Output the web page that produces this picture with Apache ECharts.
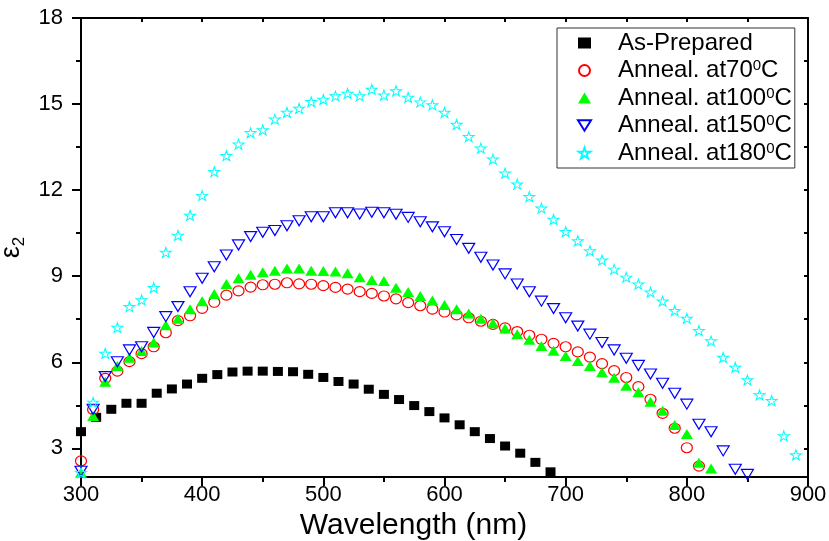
<!DOCTYPE html>
<html>
<head>
<meta charset="utf-8">
<script src="https://cdn.jsdelivr.net/npm/echarts@6/dist/echarts.min.js"></script>
<style>html,body{margin:0;padding:0;background:#fff}#c{width:829px;height:541px}</style>
</head>
<body>
<div id="c"></div>
<script>
// ---- data (wavelength in nm, epsilon_2) ----
const wlBlack = [300,312.5,325,337.5,350,362.5,375,387.5,400,412.5,425,437.5,450,462.5,475,487.5,500,512.5,525,537.5,550,562.5,575,587.5,600,612.5,625,637.5,650,662.5,675,687.5];
const epsBlack = [3.58,4.08,4.36,4.57,4.57,4.92,5.07,5.24,5.44,5.57,5.66,5.69,5.69,5.68,5.67,5.58,5.47,5.33,5.24,5.06,4.88,4.70,4.49,4.28,4.06,3.82,3.58,3.34,3.08,2.83,2.51,2.18];

const wl70 = [300,310,320,330,340,350,360,370,380,390,400,410,420,430,440,450,460,470,480,490,500,510,520,530,540,550,560,570,580,590,600,610,620,630,640,650,660,670,680,690,700,710,720,730,740,750,760,770,780,790,800,810,820];
const eps70 = [2.56,4.35,5.44,5.69,6.02,6.30,6.54,7.03,7.45,7.62,7.88,8.09,8.34,8.49,8.62,8.70,8.72,8.77,8.73,8.72,8.67,8.61,8.55,8.46,8.40,8.31,8.21,8.08,7.97,7.85,7.75,7.65,7.55,7.43,7.32,7.20,7.07,6.94,6.80,6.66,6.54,6.36,6.18,5.95,5.71,5.47,5.15,4.71,4.22,3.70,3.02,2.38,1.95];

const wl100 = [300,310,320,330,340,350,360,370,380,390,400,410,420,430,440,450,460,470,480,490,500,510,520,530,540,550,560,570,580,590,600,610,620,630,640,650,660,670,680,690,700,710,720,730,740,750,760,770,780,790,800,810,820];
const eps100 = [2.15,4.13,5.32,5.87,6.16,6.39,6.69,7.29,7.52,7.85,8.13,8.38,8.73,8.93,9.05,9.14,9.19,9.27,9.27,9.19,9.18,9.16,9.10,8.96,8.87,8.83,8.60,8.45,8.31,8.15,8.00,7.85,7.70,7.52,7.36,7.18,6.98,6.78,6.57,6.40,6.22,6.04,5.87,5.65,5.46,5.18,4.95,4.62,4.31,3.81,3.50,2.50,2.30];

const wl150 = [300,310,320,330,340,350,360,370,380,390,400,410,420,430,440,450,460,470,480,490,500,510,520,530,540,550,560,570,580,590,600,610,620,630,640,650,660,670,680,690,700,710,720,730,740,750,760,770,780,790,800,810,820,830,840,850];
const eps150 = [2.20,4.36,5.50,6.02,6.43,6.54,7.04,7.59,7.94,8.46,8.93,9.33,9.74,10.09,10.38,10.53,10.59,10.76,10.93,11.07,11.07,11.21,11.21,11.17,11.23,11.21,11.16,11.05,10.90,10.72,10.55,10.28,9.97,9.66,9.39,9.08,8.73,8.46,8.13,7.87,7.55,7.26,6.98,6.69,6.43,6.14,5.89,5.59,5.27,4.92,4.54,3.84,3.58,2.91,2.27,2.09];

const wl180 = [300,310,320,330,340,350,360,370,380,390,400,410,420,430,440,450,460,470,480,490,500,510,520,530,540,550,560,570,580,590,600,610,620,630,640,650,660,670,680,690,700,710,720,730,740,750,760,770,780,790,800,810,820,830,840,850,860,870,880,890];
const eps180 = [2.15,4.60,6.31,7.21,7.94,8.17,8.60,9.83,10.42,11.12,11.81,12.64,13.20,13.60,14.00,14.10,14.47,14.71,14.85,15.08,15.16,15.28,15.37,15.28,15.51,15.31,15.46,15.23,15.07,14.97,14.71,14.29,13.86,13.46,13.08,12.59,12.21,11.77,11.37,10.98,10.55,10.23,9.88,9.56,9.24,8.96,8.72,8.44,8.13,7.80,7.53,7.10,6.74,6.17,5.82,5.38,4.86,4.66,3.43,2.77];

const seriesNames = ['As-Prepared','Anneal. at70\u2070C','Anneal. at100\u2070C','Anneal. at150\u2070C','Anneal. at180\u2070C'];
const yMajorTicks = [3,6,9,12,15,18];
const yMinorTicks = [4.5,7.5,10.5,13.5,16.5];
const yAllTicks = [3,4.5,6,7.5,9,10.5,12,13.5,15,16.5];

// ---- styling ----
const SANS = '"Liberation Sans",Arial,sans-serif';
const STAR = 'path://M50,0L61.2,34.5L97.6,34.5L68.2,55.9L79.4,90.5L50,69.1L20.6,90.5L31.8,55.9L2.4,34.5L38.8,34.5Z';
const INVTRI = 'path://M0,0L20,0L10,16Z';
const zip = (xs, ys) => xs.map((x, i) => [x, ys[i]]);

const chart = echarts.init(document.getElementById('c'), null, {renderer: 'canvas'});
const axisLine = {show: true, lineStyle: {color: '#000', width: 2}};

chart.setOption({
  animation: false,
  backgroundColor: '#fff',
  grid: {left: 81, right: 21, top: 18, bottom: 64, containLabel: false, outerBoundsMode: 'none'},
  legend: {
    orient: 'vertical', left: 557, top: 28,
    padding: [3, 3, 3, 20], itemGap: 3.5,
    itemWidth: 13, itemHeight: 11,
    borderColor: '#333', borderWidth: 1,
    backgroundColor: '#fff',
    data: [
      {name: seriesNames[0], icon: 'rect'},
      {name: seriesNames[1], icon: 'circle'},
      {name: seriesNames[2], icon: 'triangle'},
      {name: seriesNames[3], icon: INVTRI},
      {name: seriesNames[4], icon: STAR}
    ],
    formatter: n => {
      const parts = n.split('\u2070');
      return parts.length > 1 ? '{n|' + parts[0] + '}{s|0}{n|' + parts[1] + '}' : '{n|' + n + '}';
    },
    textStyle: {
      padding: [0, 0, 0, 22],
      rich: {
        n: {fontFamily: SANS, fontSize: 24, color: '#000', lineHeight: 24, verticalAlign: 'bottom'},
        s: {fontFamily: SANS, fontSize: 15, color: '#000', lineHeight: 24, verticalAlign: 'top'}
      }
    }
  },
  xAxis: [
    {
      type: 'value', min: 300, max: 900, interval: 100, position: 'bottom',
      axisLine: axisLine,
      axisTick: {show: true, inside: false, length: 9, lineStyle: {color: '#000', width: 2}},
      minorTick: {show: true, splitNumber: 2, length: 5, lineStyle: {color: '#000', width: 2}},
      splitLine: {show: false},
      axisLabel: {fontFamily: SANS, fontSize: 22, color: '#000', margin: 7},
      name: 'Wavelength (nm)', nameLocation: 'middle', nameGap: 28,
      nameTextStyle: {fontFamily: SANS, fontSize: 30, color: '#000', padding: [0, 62, 0, 0]}
    },
    {
      type: 'value', min: 300, max: 900, interval: 100, position: 'top',
      axisLine: axisLine,
      axisTick: {show: true, inside: true, length: 4, lineStyle: {color: '#000', width: 2}},
      minorTick: {show: true, splitNumber: 2, length: 4, lineStyle: {color: '#000', width: 2}},
      splitLine: {show: false}, axisLabel: {show: false}
    }
  ],
  yAxis: [
    {
      type: 'value', min: 2, max: 18, position: 'left',
      axisLine: axisLine,
      axisTick: {show: true, inside: false, length: 9, customValues: yMajorTicks, lineStyle: {color: '#000', width: 2}},
      splitLine: {show: false},
      axisLabel: {fontFamily: SANS, fontSize: 22, color: '#000', margin: 18, customValues: yMajorTicks},
      name: '{e|\u03b5}{s|2}', nameLocation: 'middle', nameGap: 40,
      nameTextStyle: {rich: {
        e: {fontFamily: SANS, fontSize: 27, color: '#000', lineHeight: 30, verticalAlign: 'top'},
        s: {fontFamily: SANS, fontSize: 17, color: '#000', lineHeight: 30, verticalAlign: 'bottom'}
      }}
    },
    {
      type: 'value', min: 2, max: 18, position: 'left',
      axisLine: {show: false},
      axisTick: {show: true, inside: false, length: 5, customValues: yMinorTicks, lineStyle: {color: '#000', width: 2}},
      splitLine: {show: false}, axisLabel: {show: false}
    },
    {
      type: 'value', min: 2, max: 18, position: 'right',
      axisLine: axisLine,
      axisTick: {show: true, inside: true, length: 4, customValues: yAllTicks, lineStyle: {color: '#000', width: 2}},
      splitLine: {show: false}, axisLabel: {show: false}
    }
  ],
  series: [
    {name: seriesNames[0], type: 'scatter', data: zip(wlBlack, epsBlack),
     symbol: 'rect', symbolSize: [10, 9], itemStyle: {color: '#000', opacity: 1}},
    {name: seriesNames[1], type: 'scatter', data: zip(wl70, eps70),
     symbol: 'circle', symbolSize: [11, 10], itemStyle: {color: 'rgba(255,255,255,0)', borderColor: '#ff0000', borderWidth: 1.2, opacity: 1}},
    {name: seriesNames[2], type: 'scatter', data: zip(wl100, eps100),
     symbol: 'triangle', symbolSize: [12, 10], itemStyle: {color: '#00ff00', opacity: 1}},
    {name: seriesNames[3], type: 'scatter', data: zip(wl150, eps150),
     symbol: INVTRI, symbolSize: [12, 10], itemStyle: {color: 'rgba(255,255,255,0)', borderColor: '#0000ff', borderWidth: 1.2, opacity: 1}},
    {name: seriesNames[4], type: 'scatter', data: zip(wl180, eps180),
     symbol: STAR, symbolSize: [11, 10], itemStyle: {color: 'rgba(255,255,255,0)', borderColor: '#00ffff', borderWidth: 1, opacity: 1}}
  ]
});
</script>
</body>
</html>
